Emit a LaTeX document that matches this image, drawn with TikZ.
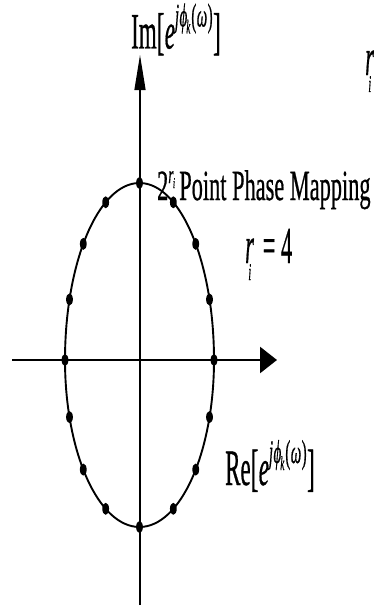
\documentclass[tikz,border=0pt]{standalone}
\usepackage{fontspec}
\setmainfont{Liberation Serif}[FakeBold=0.8]
\usetikzlibrary{arrows.meta}
\newcommand\phaseexp[1]{\scalebox{0.45}[1]{\fontsize{51}{51}\selectfont #1[\kern1pt\textit{e}\raisebox{22pt}{\fontsize{33}{33}\selectfont\textit{j}\kern1pt\textit{ϕ}\kern-2pt\raisebox{-7pt}{\fontsize{20}{20}\selectfont\textit{k}}\kern2pt(\kern1pt\textit{ω}\kern1pt)}\kern1pt]}}
\newcommand\rsub{\textit{r}\kern-13pt\raisebox{-17pt}{\fontsize{24}{24}\selectfont\textit{i}}}
\begin{document}
\begin{tikzpicture}[x=1pt,y=-1pt,
  axisx/.style={line width=2.7pt,-{Triangle[length=17pt,width=26pt]}},
  axisy/.style={line width=1.3pt,-{Triangle[length=35pt,width=11pt]}},
  curve/.style={line width=1.9pt},
  dotmark/.style={fill=black},
  lbl/.style={anchor=base west,inner sep=0pt}]
\useasboundingbox (0,0) rectangle (374,610);
% axes
\coordinate (xl) at (12,360);
\coordinate (xr) at (277,360);
\coordinate (yb) at (140,605);
\coordinate (yt) at (140,55);
\draw[axisy] (yb) -- (yt);
\draw[axisx] (xl) -- (xr);
% circle (ellipse)
\draw[curve] (214,360) arc[start angle=0,end angle=-180,x radius=74.5,y radius=177];
\draw[curve] (65,360) arc[start angle=180,end angle=0,x radius=74.5,y radius=167];
\foreach \a in {0,20,41,63,90,117,139,160,180}
  \fill[dotmark] ({139.5+74.5*cos(\a)},{360-177*sin(\a)}) ellipse[x radius=3.4,y radius=6];
\foreach \a in {20,41,63,90,117,139,160}
  \fill[dotmark] ({139.5+74.5*cos(\a)},{360+167*sin(\a)}) ellipse[x radius=3.4,y radius=6];
% labels
\node[lbl] (im) at (131,48.5) {\phaseexp{Im}};
\node[lbl] (re) at (225,485) {\phaseexp{Re}};
\node[lbl] (title) at (157,200) {\scalebox{0.52}[1]{\fontsize{43}{43}\selectfont 2\raisebox{17pt}{\fontsize{25}{25}\selectfont\textit{r}\kern-1pt\raisebox{-5pt}{\fontsize{15}{15}\selectfont\textit{i}}}\kern8pt Point Phase Mapping}};
\node[lbl] (ri) at (245,263) {\scalebox{0.43}[1]{\fontsize{52}{52}\selectfont\rsub\kern14pt\ =\ 4}};
\node[lbl] (rcut) at (365,75) {\scalebox{0.43}[1]{\fontsize{52}{52}\selectfont\rsub}};
\end{tikzpicture}
\end{document}
